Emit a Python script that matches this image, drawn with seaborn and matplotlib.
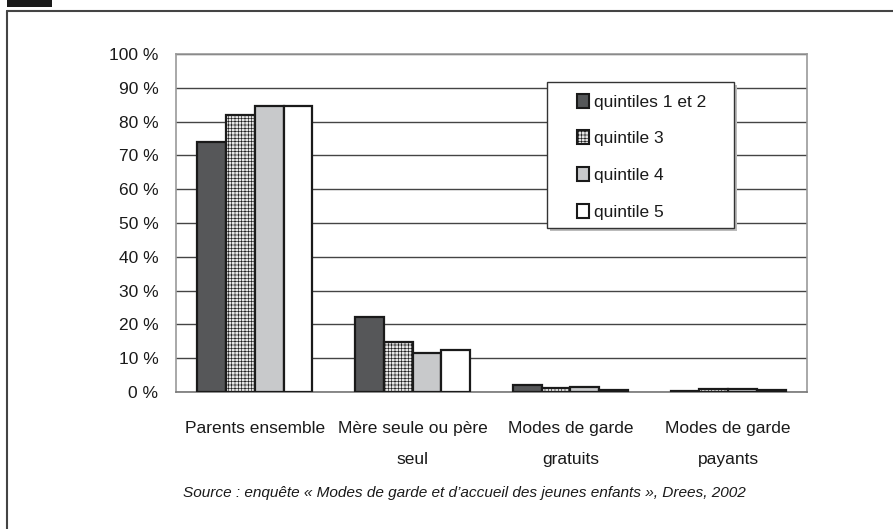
import matplotlib
matplotlib.use("Agg")
import matplotlib.pyplot as plt
from matplotlib import font_manager
from matplotlib.patches import Patch, Rectangle
from matplotlib.lines import Line2D
import seaborn as sns
import pandas as pd

categories = ["Parents ensemble", "Mère seule ou père\nseul", "Modes de garde\ngratuits", "Modes de garde\npayants"]
series = ["quintiles 1 et 2", "quintile 3", "quintile 4", "quintile 5"]
q12 = [74.0, 22.3, 2.0, 0.2]
q3 = [82.0, 14.9, 1.1, 0.9]
q4 = [84.7, 11.5, 1.5, 0.9]
q5 = [84.7, 12.3, 0.6, 0.6]
yticks = [0, 10, 20, 30, 40, 50, 60, 70, 80, 90, 100]
ytick_labels = [f"{v} %" for v in yticks]
source = "Source : enquête « Modes de garde et d’accueil des jeunes enfants », Drees, 2002"

colors = ["#555759", "#e6e6e6", "#c8c9cb", "#ffffff"]

rows = []
for s, vals in zip(series, [q12, q3, q4, q5]):
    for c, v in zip(categories, vals):
        rows.append({"cat": c, "q": s, "val": v})
df = pd.DataFrame(rows)

sns.set_theme(style="white")
names = {f.name for f in font_manager.fontManager.ttflist}
if "Liberation Sans Narrow" in names:
    fam = ["Liberation Sans Narrow", "DejaVu Sans"]
    fs = 14.5
else:
    fam = ["Liberation Sans", "DejaVu Sans"]
    fs = 12.5
plt.rcParams["font.family"] = fam
plt.rcParams["hatch.linewidth"] = 0.45

fig = plt.figure(figsize=(8.93, 5.29), dpi=100)
ax = fig.add_axes([176 / 893, 1 - 392 / 529, (807 - 176) / 893, (392 - 54) / 529])

sns.barplot(data=df, x="cat", y="val", hue="q", palette=colors, hue_order=series,
            order=categories, edgecolor="#1a1a1a", linewidth=1.6, width=0.73,
            gap=0, legend=False, ax=ax, zorder=3)
for bar in ax.containers[1]:
    bar.set_hatch("+++++")

ax.set_ylim(0, 100)
ax.set_xlim(-0.5, 3.5)
ax.set_yticks(yticks)
ax.set_yticklabels(ytick_labels, fontsize=fs, color="#1a1a1a")
ax.set_xticks(range(len(categories)))
ax.set_xticklabels(categories, fontsize=fs, color="#1a1a1a", linespacing=2.3,
                   ha="center", multialignment="center")
ax.tick_params(axis="y", length=0, pad=12.7)
ax.tick_params(axis="x", length=0, pad=21)
ax.set_xlabel("")
ax.set_ylabel("")
ax.yaxis.grid(True, color="#444444", linewidth=1.0, zorder=0)
ax.set_axisbelow(True)
for sp in ax.spines.values():
    sp.set_color("#999999")
    sp.set_linewidth(1.2)
ax.spines["bottom"].set_color("#777777")

# legend box
x0 = (547 - 176) / 631
x1 = (734 - 176) / 631
y1 = (392 - 82) / 338
y0 = (392 - 228) / 338
ax.add_patch(Rectangle((x0 + 0.004, y0 - 0.008), x1 - x0, y1 - y0, transform=ax.transAxes,
                       facecolor="#bbbbbb", edgecolor="none", zorder=5))
ax.add_patch(Rectangle((x0, y0), x1 - x0, y1 - y0, transform=ax.transAxes,
                       facecolor="white", edgecolor="#333333", linewidth=1.0, zorder=6))
handles = []
for i, (s, c) in enumerate(zip(series, colors)):
    h = Patch(facecolor=c, edgecolor="#1a1a1a", linewidth=1.5, label=s,
              hatch="+++++" if i == 1 else None)
    handles.append(h)
leg = ax.legend(handles=handles, loc="upper left", bbox_to_anchor=((578 - 176) / 631 - 0.012, y1 - 0.014),
                frameon=False, fontsize=fs, handlelength=0.65, handleheight=0.85,
                handletextpad=0.3, labelspacing=1.2, borderaxespad=0, borderpad=0.4)
leg.set_zorder(7)
for t in leg.get_texts():
    t.set_color("#1a1a1a")

fig.text(464 / 893, 1 - 493 / 529, source, ha="center", va="center", style="italic",
         fontsize=11.1, color="#1a1a1a")

# outer frame and header mark
fig.add_artist(Line2D([7 / 893, 7 / 893], [0, 1 - 11 / 529], transform=fig.transFigure,
                      color="#444444", linewidth=1.5))
fig.add_artist(Line2D([7 / 893, 1], [1 - 11 / 529, 1 - 11 / 529], transform=fig.transFigure,
                      color="#444444", linewidth=1.5))
fig.add_artist(Rectangle((7 / 893, 1 - 7 / 529), 45 / 893, 7 / 529, transform=fig.transFigure,
                         facecolor="#1a1a1a", edgecolor="none"))

fig.savefig("out.png", dpi=100)
